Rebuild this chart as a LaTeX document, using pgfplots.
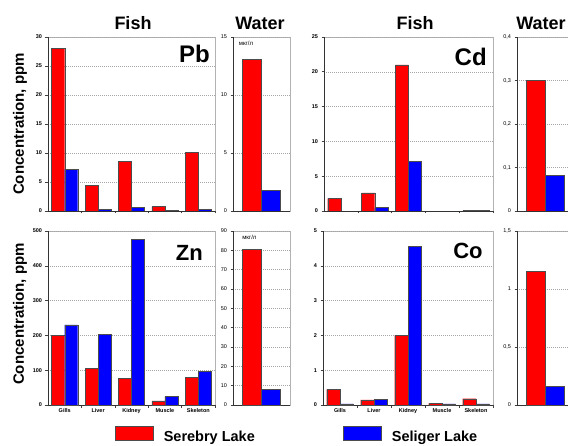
\documentclass[border=0pt]{standalone}
\usepackage{fontspec}
\setmainfont{Liberation Sans}
\usepackage{pgfplots}
\pgfplotsset{compat=1.18}

\definecolor{sred}{RGB}{255,0,0}
\definecolor{sblue}{RGB}{0,0,255}

\pgfplotsset{
  base/.style={
    scale only axis, height=174pt, ymin=0, enlargelimits=false,
    axis lines*=left,
    axis line style={-, black!80, line width=0.9pt},
    axis background/.style={draw=black!30, line width=0.5pt},
    ymajorgrids, grid style={black!35, dash pattern=on 1pt off 1pt},
    tick align=outside, major tick length=2.5pt,
    tick style={black!75, line width=0.6pt},
    yticklabel style={font=\fontsize{5.5}{6.5}\selectfont\bfseries},
    /pgf/number format/assume math mode=true,
    /pgf/number format/use comma,
    ybar,
  },
  fish/.style={
    base, width=167pt, xmin=-0.5, xmax=4.5, bar width=0.39,
    xtick={0.5,1.5,2.5,3.5,4.5}, xticklabels={},
  },
  fishlabels/.style={
    extra x ticks={0,1,2,3,4},
    extra x tick labels={Gills,Liver,Kidney,Muscle,Skeleton},
    extra x tick style={major tick length=0pt, grid=none,
      xticklabel style={font=\fontsize{5.5}{6.5}\selectfont\bfseries}},
  },
  water/.style={
    base, width=57pt, xmin=-0.5, xmax=0.5, bar width=0.333, xtick=\empty,
    yticklabel style={font=\fontsize{5.5}{6.5}\selectfont},
  },
  redbar/.style={fill=sred, draw=black!70, line width=0.4pt},
  bluebar/.style={fill=sblue, draw=black!70, line width=0.4pt},
  mybarlegend/.style={legend image code/.code={\draw[##1, draw=black!70, line width=0.6pt] (0pt,-4pt) rectangle (38pt,10pt);}},
}

\begin{document}
\begin{tikzpicture}[x=1pt,y=1pt]

% ---------- Pb fish ----------
\begin{axis}[fish, at={(48pt,234pt)}, anchor=south west, ymax=30, ytick={0,5,10,15,20,25,30}]
\addplot[redbar, bar shift=-0.195] coordinates {(0,28) (1,4.4) (2,8.5) (3,0.75) (4,10.1)};
\addplot[bluebar, bar shift=0.195] coordinates {(0,7.2) (1,0.3) (2,0.6) (3,0.12) (4,0.3)};
\node[anchor=north east, inner sep=0pt, font=\fontsize{24}{24}\selectfont\bfseries] at (rel axis cs:0.97,0.955) {Pb};
\end{axis}

% ---------- Pb water ----------
\begin{axis}[water, at={(233pt,234pt)}, anchor=south west, ymax=15, ytick={0,5,10,15}]
\addplot[redbar, bar shift=-0.1667] coordinates {(0,13.1)};
\addplot[bluebar, bar shift=0.1667] coordinates {(0,1.8)};
\node[anchor=north west, inner sep=0pt, font=\fontsize{6}{7}\selectfont] at (rel axis cs:0.1,0.975) {мкг/л};
\end{axis}

% ---------- Cd fish ----------
\begin{axis}[fish, at={(324pt,234pt)}, anchor=south west, width=169pt, ymax=25, ytick={0,5,10,15,20,25}]
\addplot[redbar, bar shift=-0.195] coordinates {(0,1.8) (1,2.6) (2,21) (4,0.08)};
\addplot[bluebar, bar shift=0.195] coordinates {(1,0.5) (2,7.1) (4,0.08)};
\node[anchor=north east, inner sep=0pt, font=\fontsize{24}{24}\selectfont\bfseries] at (rel axis cs:0.964,0.937) {Cd};
\end{axis}

% ---------- Cd water ----------
\begin{axis}[water, at={(517pt,234pt)}, anchor=south west, ymax=0.4, ytick={0,0.1,0.2,0.3,0.4}]
\addplot[redbar, bar shift=-0.1667] coordinates {(0,0.3)};
\addplot[bluebar, bar shift=0.1667] coordinates {(0,0.082)};
\end{axis}

% ---------- Zn fish ----------
\begin{axis}[fish, fishlabels, at={(48pt,40pt)}, anchor=south west, ymax=500, ytick={0,100,200,300,400,500},
  legend style={at={(0.401,-0.122)}, anchor=north west, draw=none, fill=none, inner sep=0pt,
    font=\fontsize{14.5}{14.5}\selectfont\bfseries,
    /tikz/every odd column/.append style={column sep=8pt}}]
\addplot[redbar, mybarlegend, bar shift=-0.195] coordinates {(0,200) (1,105) (2,77) (3,12) (4,80)};
\addlegendentry{Serebry Lake}
\addplot[bluebar, bar shift=0.195] coordinates {(0,230) (1,203) (2,477) (3,25) (4,97)};
\node[anchor=north east, inner sep=0pt, font=\fontsize{22}{22}\selectfont\bfseries] at (rel axis cs:0.928,0.92) {Zn};
\end{axis}

% ---------- Zn water ----------
\begin{axis}[water, at={(233pt,40pt)}, anchor=south west, ymax=90, ytick={0,10,20,30,40,50,60,70,80,90}]
\addplot[redbar, bar shift=-0.1667] coordinates {(0,80.5)};
\addplot[bluebar, bar shift=0.1667] coordinates {(0,8)};
\node[anchor=north west, inner sep=0pt, font=\fontsize{6}{7}\selectfont] at (rel axis cs:0.16,0.975) {мкг/л};
\end{axis}

% ---------- Co fish ----------
\begin{axis}[fish, fishlabels, at={(323pt,40pt)}, anchor=south west, width=170pt, ymax=5, ytick={0,1,2,3,4,5},
  legend style={at={(0.118,-0.122)}, anchor=north west, draw=none, fill=none, inner sep=0pt,
    font=\fontsize{14.5}{14.5}\selectfont\bfseries,
    /tikz/every odd column/.append style={column sep=8pt}}]
\addplot[redbar, forget plot, bar shift=-0.195] coordinates {(0,0.45) (1,0.15) (2,2.0) (3,0.05) (4,0.18)};
\addplot[bluebar, mybarlegend, bar shift=0.195] coordinates {(0,0.03) (1,0.16) (2,4.55) (3,0.03) (4,0.03)};
\addlegendentry{Seliger Lake}
\node[anchor=north east, inner sep=0pt, font=\fontsize{22}{22}\selectfont\bfseries] at (rel axis cs:0.94,0.93) {Co};
\end{axis}

% ---------- Co water ----------
\begin{axis}[water, at={(517pt,40pt)}, anchor=south west, ymax=1.5, ytick={0,0.5,1,1.5}]
\addplot[redbar, bar shift=-0.1667] coordinates {(0,1.15)};
\addplot[bluebar, bar shift=0.1667] coordinates {(0,0.16)};
\end{axis}

% ---------- titles and labels ----------
\node[anchor=base, inner sep=0pt, font=\fontsize{18}{18}\selectfont\bfseries] at (133,415) {Fish};
\node[anchor=base, inner sep=0pt, font=\fontsize{18}{18}\selectfont\bfseries] at (260,415) {Water};
\node[anchor=base, inner sep=0pt, font=\fontsize{18}{18}\selectfont\bfseries] at (415,415) {Fish};
\node[anchor=base, inner sep=0pt, font=\fontsize{18}{18}\selectfont\bfseries] at (541,415) {Water};
\node[rotate=90, inner sep=0pt, font=\fontsize{15}{15}\selectfont\bfseries] at (20,321) {Concentration, ppm};
\node[rotate=90, inner sep=0pt, font=\fontsize{15}{15}\selectfont\bfseries] at (20,131) {Concentration, ppm};

\pgfresetboundingbox
\useasboundingbox (0,0) rectangle (568,445);
\end{tikzpicture}
\end{document}
